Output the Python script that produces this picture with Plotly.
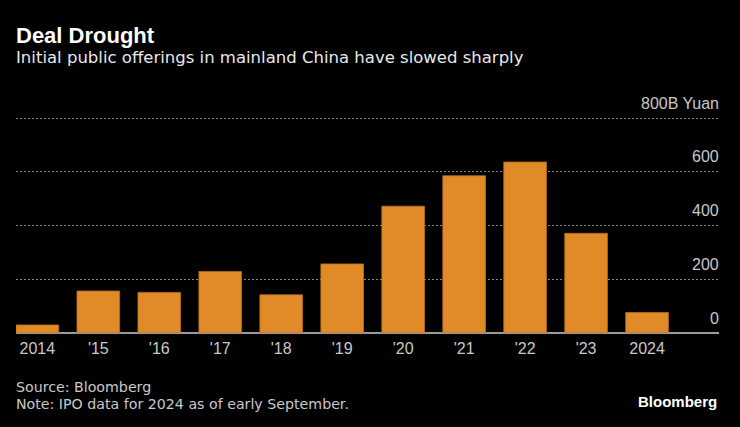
import plotly.graph_objects as go

years = ["2014", "'15", "'16", "'17", "'18", "'19", "'20", "'21", "'22", "'23", "2024"]
ipo_value = [30, 156, 151, 229, 142, 257, 472, 585, 636, 371, 76]
y_ticks = [0, 200, 400, 600, 800]
y_tick_labels = ["0", "200", "400", "600", "800B Yuan"]

BG = "#000000"
BAR = "#E08B27"
LIB = "Liberation Sans, Arial, sans-serif"
DJV = "DejaVu Sans, sans-serif"

fig = go.Figure()
fig.add_trace(go.Bar(
    x=list(range(len(years))), y=ipo_value,
    marker=dict(color=BAR, line=dict(color="#B86E1C", width=0.8)),
    hoverinfo="skip",
))

# pixel layout of plot area: value 0 at y=333, value 800 at y=118
W0, W1 = 16, 719
H800, H1 = 118, 333
TOP = 115
ymax = 800 * (H1 - TOP) / (H1 - H800)

fig.update_layout(
    width=740, height=427,
    paper_bgcolor=BG, plot_bgcolor=BG,
    margin=dict(l=W0, r=740 - W1, t=TOP, b=427 - H1),
    bargap=0.3,
    showlegend=False,
    font=dict(family=LIB, color="#c8c8c8", size=16),
    xaxis=dict(
        range=[-0.35, 11.18],
        tickmode="array", tickvals=list(range(len(years))), ticktext=years,
        showgrid=False, zeroline=False, showline=False, ticks="",
        ticklabelstandoff=4,
        tickfont=dict(size=16, color="#c8c8c8", family=LIB),
        fixedrange=True,
    ),
    yaxis=dict(
        range=[0, ymax], side="right",
        tickmode="array", tickvals=y_ticks,
        showticklabels=False,
        showgrid=True, gridcolor="#858585", griddash="2px,2px", gridwidth=1,
        zeroline=True, zerolinecolor="#9a9a9a", zerolinewidth=2,
        showline=False, ticks="",
        fixedrange=True,
    ),
)

# y-axis labels placed above their gridlines, right aligned
for v, t in zip(y_ticks, y_tick_labels):
    fig.add_annotation(text=t, xref="paper", yref="y", x=1, y=v,
                       xanchor="right", yanchor="middle", yshift=15, xshift=2,
                       showarrow=False, font=dict(size=16, color="#c8c8c8", family=LIB))

def px(x):
    return (x - W0) / (W1 - W0)
def py(y):
    return (H1 - y) / (H1 - TOP)

def ann(text, x, y, size, color, family, xanchor="left", bold=False):
    fig.add_annotation(text=("<b>%s</b>" % text) if bold else text,
                       xref="paper", yref="paper",
                       x=px(x), y=py(y), xanchor=xanchor, yanchor="middle", showarrow=False,
                       font=dict(size=size, color=color, family=family))

ann("Deal Drought", 14, 35, 22, "#ffffff", LIB, bold=True)
ann("Initial public offerings in mainland China have slowed sharply", 14, 58, 16.5, "#e8e8e8", DJV)
ann("Source: Bloomberg", 14, 387, 14.2, "#c8c8c8", DJV)
ann("Note: IPO data for 2024 as of early September.", 14, 404, 14.2, "#c8c8c8", DJV)
ann("Bloomberg", 719, 401, 15, "#ffffff", LIB, xanchor="right", bold=True)

fig.write_html("out.html", config={"displayModeBar": False, "staticPlot": True},
               post_script="document.body.style.margin='0';")
